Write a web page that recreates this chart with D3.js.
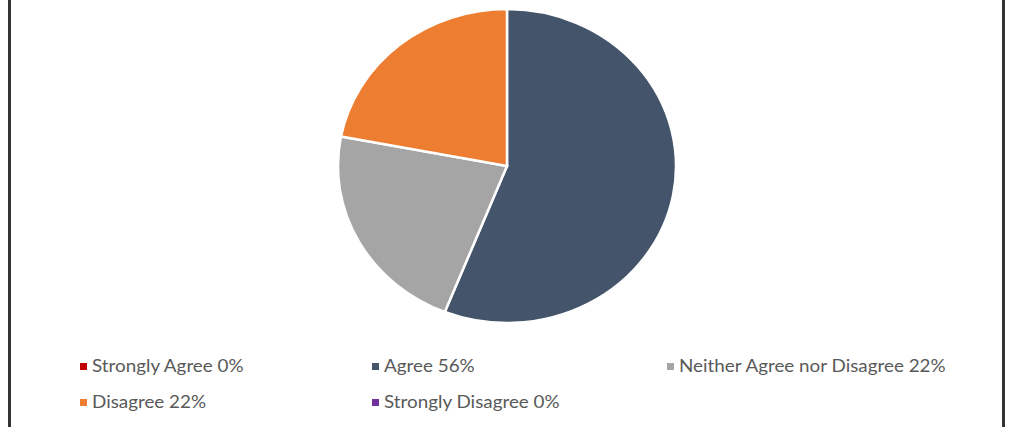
<!DOCTYPE html>
<html><head><meta charset="utf-8">
<script src="https://cdn.jsdelivr.net/npm/d3@7"></script>
<style>body{margin:0;background:#fff}svg{display:block}</style>
</head><body>
<svg id="c" width="1011" height="427"></svg>
<script>
const categories = ["Strongly Agree", "Agree", "Neither Agree nor Disagree", "Disagree", "Strongly Disagree"];
const values = [0, 56, 22, 22, 0];
const colors = ["#C00000", "#44546A", "#A5A5A5", "#ED7D31", "#7030A0"];

const svg = d3.select("#c");
// frame lines
svg.append("rect").attr("x",8).attr("y",0).attr("width",3).attr("height",427).attr("fill","#333");
svg.append("rect").attr("x",1002).attr("y",0).attr("width",3).attr("height",427).attr("fill","#333");

const ry = 157, rx = 169, cx = 507, cy = 166;
const sx = rx / ry;
const pie = d3.pie().sort(null).value(d => d)(values);
const arc = d3.arc().innerRadius(0).outerRadius(ry);
const g = svg.append("g").attr("transform", `translate(${cx},${cy}) scale(${sx},1)`);
g.selectAll("path").data(pie).join("path")
  .attr("d", arc)
  .attr("fill", (d,i) => colors[i])
  .attr("stroke", "#fff")
  .attr("stroke-width", 2.5)
  .attr("vector-effect", "non-scaling-stroke")
  .attr("display", d => d.value > 0 ? null : "none");

// legend
const legendX = [80, 372, 667];
const legendRowY = [366, 402];
const leg = svg.append("g");
categories.forEach((c, i) => {
  const col = i % 3, row = Math.floor(i / 3);
  const x = legendX[col], y = legendRowY[row];
  leg.append("rect").attr("x", x).attr("y", y - 3).attr("width", 7).attr("height", 7).attr("fill", colors[i]);
  leg.append("text").attr("transform", `translate(${x + 12},${y + 6}) scale(${sx},1)`)
    .attr("font-family", "Lato, 'Open Sans', sans-serif")
    .attr("font-size", 17.5)
    .attr("fill", "#595959")
    .text(`${c} ${values[i]}%`);
});
</script>
</body></html>
